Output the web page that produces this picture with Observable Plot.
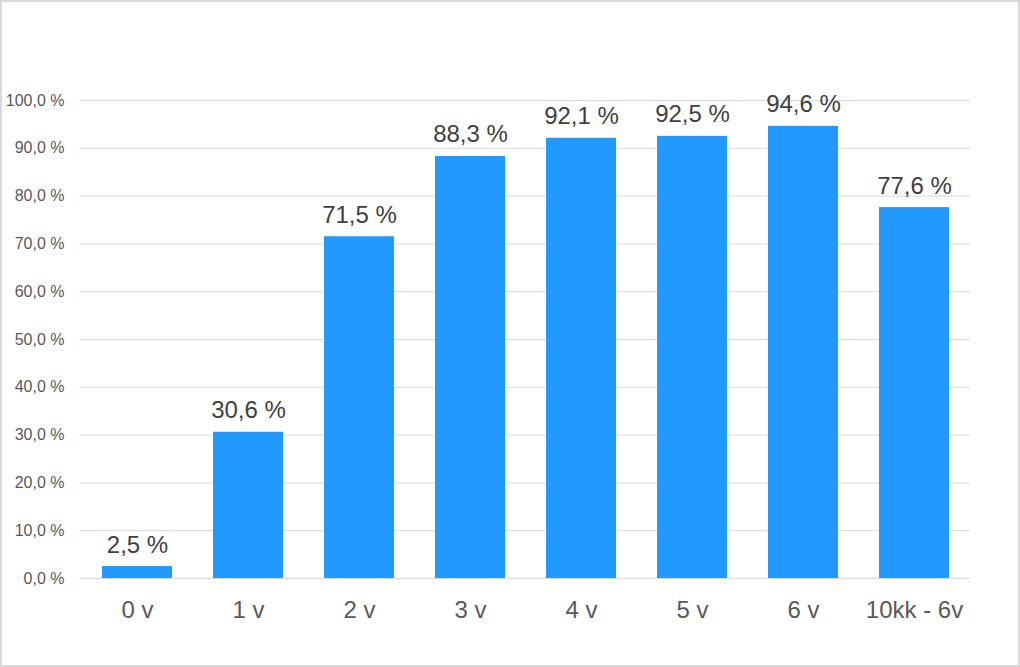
<!DOCTYPE html>
<html>
<head>
<meta charset="utf-8">
<script src="https://cdn.jsdelivr.net/npm/d3@7"></script>
<script src="https://cdn.jsdelivr.net/npm/@observablehq/plot@0.6"></script>
<style>
  html, body { margin: 0; padding: 0; background: #fff; }
  #wrap { position: relative; width: 1020px; height: 667px; overflow: hidden; }
  #frame { position: absolute; left: 0; top: 0; width: 1020px; height: 667px; box-sizing: border-box; border: 2px solid #d9d9d9; pointer-events: none; }
  svg { display: block; }
</style>
</head>
<body>
<div id="wrap"><div id="frame"></div></div>
<script>
const categories = ["0 v", "1 v", "2 v", "3 v", "4 v", "5 v", "6 v", "10kk - 6v"];
const values = [2.5, 30.6, 71.5, 88.3, 92.1, 92.5, 94.6, 77.6];
const yTicks = [0, 10, 20, 30, 40, 50, 60, 70, 80, 90, 100];

const data = categories.map((c, i) => ({cat: c, value: values[i]}));
const fmt = v => v.toFixed(1).replace(".", ",") + " %";

const chart = Plot.plot({
  width: 1020,
  height: 667,
  marginLeft: 80,
  marginRight: 50,
  marginTop: 100,
  marginBottom: 89,
  style: {fontFamily: "'Liberation Sans', Arial, sans-serif", background: "transparent"},
  x: {domain: categories, paddingInner: 0.37, paddingOuter: 0.185, label: null},
  y: {domain: [0, 100], label: null},
  marks: [
    Plot.ruleY(yTicks, {stroke: "#d9d9d9", strokeWidth: 1}),
    Plot.barY(data, {x: "cat", y: "value", fill: "#2299ff"}),
    Plot.text(data, {x: "cat", y: "value", text: d => fmt(d.value), lineAnchor: "bottom", dy: -14, fontSize: 24, fill: "#404040"}),
    Plot.axisY(yTicks, {tickSize: 0, tickPadding: 16, tickFormat: fmt, fontSize: 16, color: "#595959", label: null}),
    Plot.axisX({tickSize: 0, tickPadding: 22, fontSize: 24, color: "#595959", label: null})
  ]
});
document.getElementById("wrap").insertBefore(chart, document.getElementById("frame"));
</script>
</body>
</html>
